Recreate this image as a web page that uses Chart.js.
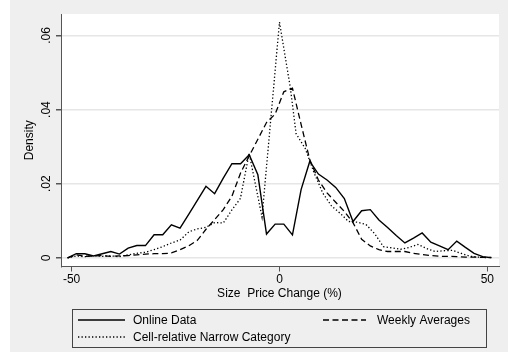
<!DOCTYPE html>
<html>
<head>
<meta charset="utf-8">
<script src="https://cdn.jsdelivr.net/npm/chart.js@4"></script>
<style>
  html, body { margin: 0; padding: 0; background: #fff; }
  #graphe { display: block; }
</style>
</head>
<body>
<canvas id="graphe" width="508" height="364"></canvas>
<script>
// bin centres of the histogram polygons (%)
const binsX = [-50.96, -48.88, -46.80, -44.72, -42.64, -40.56, -38.48, -36.40, -34.32, -32.24,
    -30.16, -28.08, -26.00, -23.92, -21.84, -19.76, -17.68, -15.60, -13.52, -11.44,
    -9.36, -7.28, -5.20, -3.12, -1.04, 1.04, 3.12, 5.20, 7.28, 9.36,
    11.44, 13.52, 15.60, 17.68, 19.76, 21.84, 23.92, 26.00, 28.08, 30.16,
    32.24, 34.32, 36.40, 38.48, 40.56, 42.64, 44.72, 46.80, 48.88, 50.96];

const onlineY = [0, .0011, .0011, .0005, .0011, .0017, .0010, .0026, .0033, .0033,
    .0062, .0062, .0089, .0080, .0117, .0155, .0193, .0173, .0215, .0254,
    .0254, .0278, .0224, .0064, .0091, .0091, .0062, .0184, .0260, .0226,
    .0210, .0190, .0160, .0098, .0127, .0130, .0102, .0082, .0060, .0040,
    .0053, .0067, .0042, .0032, .0022, .0045, .0028, .0012, .0003, 0];

const weeklyY = [0, .0008, .0004, .0005, .0006, .0004, .0005, .0006, .0008, .0010,
    .0011, .0011, .0013, .0022, .0032, .0047, .0077, .0103, .0130, .0166,
    .0229, .0275, .0320, .0365, .0388, .0448, .0458, .0360, .0265, .0210,
    .0175, .0150, .0125, .0095, .0050, .0032, .0022, .0017, .0017, .0017,
    .0012, .0009, .0006, .0004, .0004, .0003, .0002, .0002, .0001, .0001];

const cellX = [-51, -48.9, -46.8, -44.7, -42.6, -40.6, -38.5, -36.4, -34.3, -32.2,
    -30.2, -28.1, -26, -23.9, -21.8, -19.8, -17.7, -15.6, -13.5, -11.4,
    -9.4, -7.3, -4.2, 0, 2.6, 4.0, 6.2, 8.3, 10.4, 12.5,
    14.6, 16.6, 18.7, 20.8, 22.9, 25, 27, 29.1, 31.2, 33.3,
    35.4, 37.4, 39.5, 41.6, 43.7, 45.8, 47.8, 49.9];
const cellY = [0, .0005, .0003, .0006, .0004, .0005, .0003, .0008, .0012, .0015,
    .0022, .0030, .0040, .0048, .0070, .0078, .0082, .0095, .0094, .0130,
    .0160, .0282, .0110, .0636, .0460, .0335, .0295, .0230, .0175, .0140,
    .0120, .0098, .0096, .0090, .0065, .0030, .0027, .0023, .0028, .0036,
    .0025, .0017, .0019, .0020, .0012, .0004, .0002, 0];

const xTicks = [-50, 0, 50];
const yTicks = [0, 0.02, 0.04, 0.06];
const yTickLabels = ['0', '.02', '.04', '.06'];

const seriesLabels = ['Online Data', 'Weekly Averages', 'Cell-relative Narrow Category'];

const police = '"Liberation Sans", Arial, sans-serif';
const gris = '#efefef';
const axeCouleur = '#555555';

function points(xs, ys) {
    return xs.map((x, i) => ({ x: x, y: ys[i] }));
}

// fond gris + zone blanche du graphique
const fondPlugin = {
    id: 'fond',
    beforeDraw(chart) {
        const ctx = chart.ctx;
        const a = chart.chartArea;
        ctx.save();
        ctx.fillStyle = '#ffffff';
        ctx.fillRect(0, 0, chart.width, chart.height);
        ctx.fillStyle = gris;
        ctx.fillRect(10, 0, chart.width - 10, 352);
        ctx.fillStyle = '#ffffff';
        ctx.fillRect(a.left, a.top, a.right - a.left, a.bottom - a.top);
        ctx.restore();
    }
};

// étiquettes de l'axe y (tournées), titres et légende
const textesPlugin = {
    id: 'textes',
    afterDraw(chart) {
        const ctx = chart.ctx;
        const a = chart.chartArea;
        const yScale = chart.scales.y;
        ctx.save();
        ctx.fillStyle = '#000';
        ctx.font = '12px ' + police;
        ctx.textAlign = 'center';
        ctx.textBaseline = 'middle';

        yTicks.forEach((v, i) => {
            const py = yScale.getPixelForValue(v);
            ctx.save();
            ctx.translate(47, py);
            ctx.rotate(-Math.PI / 2);
            ctx.fillText(yTickLabels[i], 0, 0);
            ctx.restore();
        });

        ctx.save();
        ctx.translate(30, (a.top + a.bottom) / 2);
        ctx.rotate(-Math.PI / 2);
        ctx.fillText('Density', 0, 0);
        ctx.restore();

        ctx.fillText('Size  Price Change (%)', chart.scales.x.getPixelForValue(0), 294);

        // légende
        ctx.strokeStyle = '#444';
        ctx.lineWidth = 1;
        ctx.strokeRect(72.5, 309.5, 414, 38);

        const ds = chart.data.datasets;
        const echantillon = (d, x1, x2, y) => {
            ctx.save();
            ctx.strokeStyle = '#000';
            ctx.lineWidth = d.borderWidth;
            ctx.setLineDash(d.borderDash || []);
            ctx.beginPath();
            ctx.moveTo(x1, y);
            ctx.lineTo(x2, y);
            ctx.stroke();
            ctx.restore();
        };
        ctx.textAlign = 'left';
        echantillon(ds[0], 78, 125, 320);
        ctx.fillText(ds[0].label, 133, 320.5);
        echantillon(ds[1], 323, 366, 320);
        ctx.fillText(ds[1].label, 377, 320.5);
        echantillon(ds[2], 78, 125, 337);
        ctx.fillText(ds[2].label, 133, 337.5);
        ctx.restore();
    }
};

new Chart(document.getElementById('graphe'), {
    type: 'line',
    data: {
        datasets: [
            {
                label: seriesLabels[0],
                data: points(binsX, onlineY),
                borderColor: '#000',
                borderWidth: 1.4,
                pointRadius: 0,
                tension: 0
            },
            {
                label: seriesLabels[1],
                data: points(binsX, weeklyY),
                borderColor: '#000',
                borderWidth: 1.3,
                borderDash: [6, 3.5],
                pointRadius: 0,
                tension: 0
            },
            {
                label: seriesLabels[2],
                data: points(cellX, cellY),
                borderColor: '#000',
                borderWidth: 1.3,
                borderDash: [1.3, 2.2],
                pointRadius: 0,
                tension: 0
            }
        ]
    },
    options: {
        responsive: false,
        devicePixelRatio: 1,
        animation: false,
        layout: { padding: { left: 0, right: 9, top: 14, bottom: 0 } },
        plugins: {
            legend: { display: false },
            tooltip: { enabled: false }
        },
        scales: {
            x: {
                type: 'linear',
                min: -52.55,
                max: 52.8,
                afterBuildTicks: (scale) => { scale.ticks = xTicks.map(v => ({ value: v })); },
                afterFit: (scale) => { scale.height = 97.5; },
                border: { display: true, color: axeCouleur, width: 1 },
                grid: { drawOnChartArea: false, drawTicks: true, tickLength: 5, tickColor: axeCouleur },
                ticks: {
                    color: '#000',
                    font: { family: police, size: 12 },
                    padding: 1,
                    maxRotation: 0,
                    callback: (v) => String(v)
                }
            },
            y: {
                type: 'linear',
                min: -0.00235,
                max: 0.0658,
                afterBuildTicks: (scale) => { scale.ticks = yTicks.map(v => ({ value: v })); },
                afterFit: (scale) => { scale.width = 61; },
                border: { display: true, color: axeCouleur, width: 1 },
                grid: { color: '#e6e6e6', lineWidth: 1.5, drawTicks: true, tickLength: 5, tickColor: axeCouleur },
                ticks: { display: false }
            }
        }
    },
    plugins: [fondPlugin, textesPlugin]
});
</script>
</body>
</html>
